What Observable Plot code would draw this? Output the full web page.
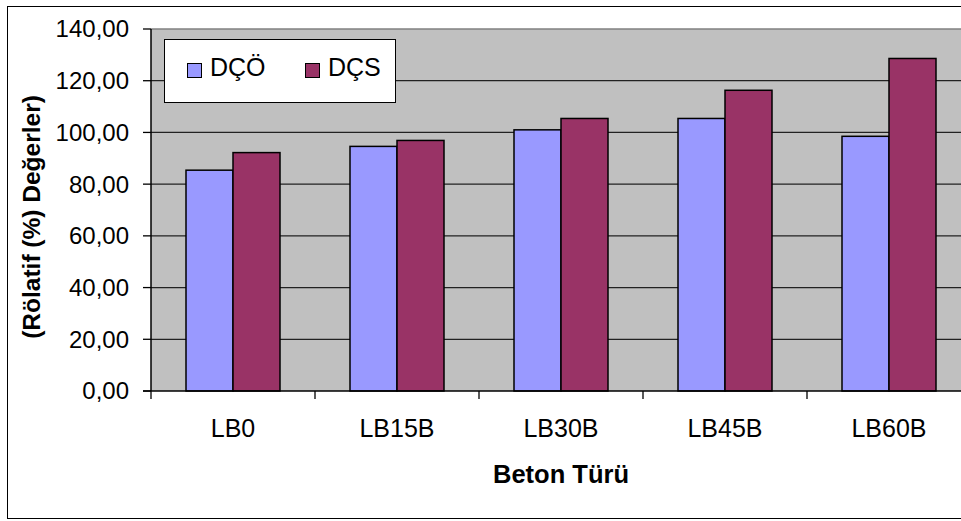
<!DOCTYPE html>
<html><head><meta charset="utf-8">
<script src="https://cdn.jsdelivr.net/npm/d3@7"></script>
<script src="https://cdn.jsdelivr.net/npm/@observablehq/plot@0.6"></script>
<style>
body{margin:0;background:#fff;overflow:hidden;font-family:"Liberation Sans",Arial,sans-serif;}
#wrap{position:relative;width:961px;height:521px;overflow:hidden;background:#fff;}
#border{position:absolute;left:7px;top:6px;width:1000px;height:513px;border:1.5px solid #000;box-sizing:border-box;}
#chart{position:absolute;left:0;top:0;}
#legend{position:absolute;left:164px;top:39px;width:232px;height:64px;border:1.5px solid #000;box-sizing:border-box;background:#fff;font-size:25px;}
.sw{position:absolute;width:15px;height:15px;border:1.5px solid #000;box-sizing:border-box;top:23px;}
.lt{position:absolute;top:13px;line-height:28px;}
</style>
</head><body>
<div id="wrap"><div id="border"></div><div id="chart"></div><div id="legend"></div></div>
<script>
const categories = ["LB0","LB15B","LB30B","LB45B","LB60B"];
const series = ["DÇÖ","DÇS"];
const dcoValues = [85.4,94.6,101.0,105.4,98.5];
const dcsValues = [92.2,96.9,105.4,116.3,128.6];
const yTicks = [0,20,40,60,80,100,120,140];
const colors = ["#9999FF","#993366"];
const xTitle = "Beton Türü";
const yTitle = "(Rölatif (%) Değerler)";

const data = categories.flatMap((c,i)=>[
  {cat:c, series:series[0], value:dcoValues[i]},
  {cat:c, series:series[1], value:dcsValues[i]}
]);
const fmt = v => v.toFixed(2).replace(".", ",");

// plot-area extent from the library's scales
function extent(scales) {
  const {y, fx} = scales;
  const bw = fx.bandwidth ? fx.bandwidth() : scales.scales.fx.bandwidth;
  const step = fx(categories[1]) - fx(categories[0]);
  const gap = step - bw;
  const L = fx(categories[0]) - gap/2;
  const R = fx(categories[categories.length-1]) + bw + gap/2;
  return {L, R, T: y(yTicks[yTicks.length-1]), B: y(0), bw, step, gap};
}

// background + gridlines
const gridMark = Plot.frame({facet:"super", fill:"none", stroke:"none",
  render: (index, scales) => {
    const {y} = scales;
    const {L, R, T, B} = extent(scales);
    const g = d3.create("svg:g");
    g.append("rect").attr("x",L).attr("y",T).attr("width",R-L).attr("height",B-T).attr("fill","#c0c0c0");
    yTicks.filter(v => v > 0 && v < 140).forEach(v =>
      g.append("line").attr("x1",L).attr("x2",R).attr("y1",y(v)).attr("y2",y(v)).attr("stroke","#222").attr("stroke-width",1.2));
    g.append("line").attr("x1",L).attr("x2",R).attr("y1",T).attr("y2",T).attr("stroke","#808080").attr("stroke-width",1.5);
    return g.node();
  }});

// axes lines, ticks, tick labels and titles
const axesMark = Plot.frame({facet:"super", fill:"none", stroke:"none",
  render: (index, scales) => {
    const {y, fx} = scales;
    const {L, R, T, B, bw, gap} = extent(scales);
    const g = d3.create("svg:g");
    const lines = g.append("g").attr("stroke","#000").attr("stroke-width",1.3);
    yTicks.forEach(v => lines.append("line").attr("x1",L-8).attr("x2",L).attr("y1",y(v)).attr("y2",y(v)));
    const bounds = categories.map(c => fx(c) - gap/2);
    bounds.push(R);
    bounds.forEach(b => lines.append("line").attr("x1",b).attr("x2",b).attr("y1",B).attr("y2",B+8));
    lines.append("line").attr("x1",L).attr("x2",L).attr("y1",T).attr("y2",B).attr("stroke-width",1.5);
    lines.append("line").attr("x1",L-8).attr("x2",R).attr("y1",B).attr("y2",B).attr("stroke-width",1.5);
    const labels = g.append("g").attr("font-size",24).attr("text-anchor","end").attr("fill","#000");
    yTicks.forEach(v => labels.append("text").attr("x",L-22).attr("y",y(v)).attr("dy","0.35em").text(fmt(v)));
    const xl = g.append("g").attr("font-size",25).attr("text-anchor","middle").attr("fill","#000");
    categories.forEach(c => xl.append("text").attr("x",fx(c)+bw/2).attr("y",B+37).attr("dy","0.35em").text(c));
    g.append("text").attr("x",(L+R)/2).attr("y",B+83).attr("dy","0.35em").attr("text-anchor","middle")
      .attr("font-size",25.5).attr("font-weight","bold").attr("fill","#000").text(xTitle);
    g.append("text").attr("transform",`translate(${L-120},${(T+B)/2+7}) rotate(-90)`).attr("dy","0.35em")
      .attr("text-anchor","middle").attr("font-size",24.5).attr("font-weight","bold").attr("fill","#000").text(yTitle);
    return g.node();
  }});

const plot = Plot.plot({
  width: 972, height: 521,
  marginLeft: 150, marginRight: 0.5, marginTop: 29, marginBottom: 130,
  style: {fontFamily: "'Liberation Sans', Arial, sans-serif", fontSize: "24px", background: "transparent", maxWidth: "none", overflow: "visible"},
  fx: {domain: categories, paddingInner: 0.426, paddingOuter: 0.213, axis: null, label: null},
  x: {domain: series, padding: 0, axis: null},
  y: {domain: [0,140], axis: null},
  color: {domain: series, range: colors},
  marks: [
    gridMark,
    Plot.barY(data, {fx:"cat", x:"series", y:"value", fill:"series", stroke:"#000", strokeWidth:1.5}),
    axesMark
  ]
});
document.getElementById("chart").appendChild(plot);

const leg = document.getElementById("legend");
const legX = [[22, 45], [140, 163]];
series.forEach((s,i) => {
  const sw = document.createElement("div");
  sw.className = "sw"; sw.style.left = legX[i][0] + "px"; sw.style.background = colors[i];
  const t = document.createElement("div");
  t.className = "lt"; t.style.left = legX[i][1] + "px"; t.textContent = s;
  leg.appendChild(sw); leg.appendChild(t);
});
</script>
</body></html>
